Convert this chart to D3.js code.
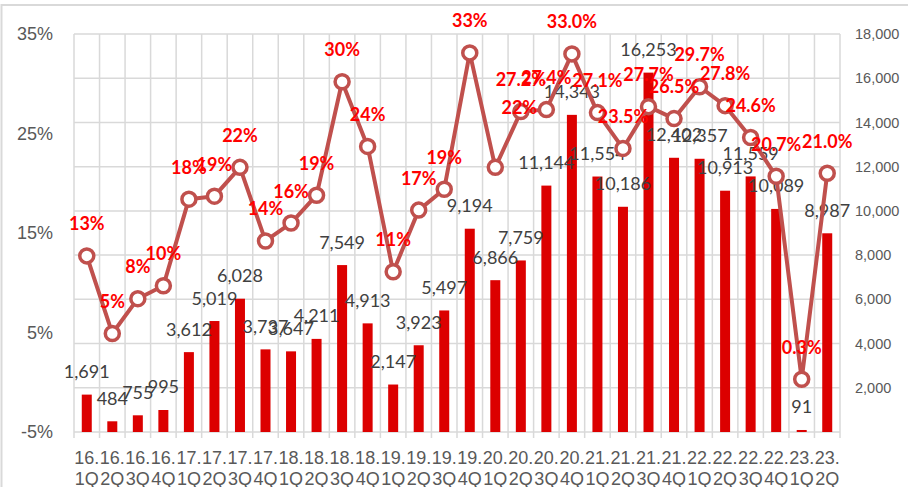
<!DOCTYPE html>
<html>
<head>
<meta charset="utf-8">
<script src="https://cdn.jsdelivr.net/npm/d3@7"></script>
<style>
    body { margin: 0; background: #fff; }
    svg { display: block; font-family: Lato, "Open Sans", sans-serif; }
</style>
</head>
<body>
<svg id="chart"></svg>
<script>
// quarters, sales (right axis) and margin % (left axis)
const categories = [
    "16.1Q", "16.2Q", "16.3Q", "16.4Q", "17.1Q", "17.2Q", "17.3Q", "17.4Q",
    "18.1Q", "18.2Q", "18.3Q", "18.4Q", "19.1Q", "19.2Q", "19.3Q", "19.4Q",
    "20.1Q", "20.2Q", "20.3Q", "20.4Q", "21.1Q", "21.2Q", "21.3Q", "21.4Q",
    "22.1Q", "22.2Q", "22.3Q", "22.4Q", "23.1Q", "23.2Q"
];
const sales = [
    1691, 484, 755, 995, 3612, 5019, 6028, 3737,
    3647, 4211, 7549, 4913, 2147, 3923, 5497, 9194,
    6866, 7759, 11144, 14343, 11554, 10186, 16253, 12402,
    12357, 10913, 11559, 10089, 91, 8987
];
const margin = [
    12.7, 4.9, 8.4, 9.7, 18.4, 18.7, 21.6, 14.2,
    16.0, 18.8, 30.2, 23.7, 11.1, 17.3, 19.4, 33.1,
    21.6, 27.2, 27.4, 33.0, 27.1, 23.5, 27.7, 26.5,
    29.7, 27.8, 24.6, 20.7, 0.3, 21.0
];
const leftTicks = [-5, 5, 15, 25, 35];
const rightTicks = [2000, 4000, 6000, 8000, 10000, 12000, 14000, 16000, 18000];
const gridTicks = [0, ...rightTicks];
// labels before this index are rounded to whole percent
const wholeUntil = 17;
// one label was dragged off its point in the original
const labelNudge = { 16: [24, -28] };

const width = 908, height = 487;
const plot = { left: 74, right: 840, top: 34, bottom: 432 };

const svg = d3.select("#chart").attr("width", width).attr("height", height);

// chart border
svg.append("rect")
    .attr("x", 1.5).attr("y", 5)
    .attr("width", width + 10).attr("height", height + 10)
    .attr("fill", "none").attr("stroke", "#d9d9d9").attr("stroke-width", 2);

const x = d3.scaleBand().domain(categories).range([plot.left, plot.right]).padding(0);
const yL = d3.scaleLinear().domain([-5, 35]).range([plot.bottom, plot.top]);
const yR = d3.scaleLinear().domain([0, 18000]).range([plot.bottom, plot.top]);

const grid = svg.append("g").attr("stroke", "#d9d9d9").attr("stroke-width", 1.5);
grid.selectAll("line.h")
    .data(gridTicks)
    .join("line")
    .attr("class", "h")
    .attr("x1", plot.left).attr("x2", plot.right)
    .attr("y1", (d) => yR(d)).attr("y2", (d) => yR(d));
const edges = categories.map((c) => x(c)).concat([plot.right]);
grid.selectAll("line.v")
    .data(edges)
    .join("line")
    .attr("class", "v")
    .attr("x1", (d) => d).attr("x2", (d) => d)
    .attr("y1", plot.top).attr("y2", plot.bottom + 6);

// axes (labels only)
const leftAxis = svg.append("g")
    .attr("transform", `translate(${plot.left},0)`)
    .call(d3.axisLeft(yL).tickValues(leftTicks).tickSize(0).tickPadding(21).tickFormat((d) => d + "%"));
const rightAxis = svg.append("g")
    .attr("transform", `translate(${plot.right},0)`)
    .call(d3.axisRight(yR).tickValues(rightTicks).tickSize(0).tickPadding(15).tickFormat(d3.format(",")));
const bottomAxis = svg.append("g")
    .attr("transform", `translate(0,${plot.bottom})`)
    .call(d3.axisBottom(x).tickSize(0).tickFormat(""));

[leftAxis, rightAxis, bottomAxis].forEach((g) => g.select(".domain").remove());
leftAxis.selectAll("text").attr("font-size", 18).attr("fill", "#595959").attr("font-family", null);
rightAxis.selectAll("text").attr("font-size", 14.5).attr("fill", "#595959").attr("font-family", null);

bottomAxis.selectAll(".tick text")
    .attr("y", 0).attr("dy", null)
    .attr("font-size", 18).attr("fill", "#595959").attr("font-family", null)
    .each(function (d) {
        const t = d3.select(this);
        t.append("tspan").attr("x", 0).attr("y", 32).text(d.slice(0, 3));
        t.append("tspan").attr("x", 0).attr("y", 53).text(d.slice(3));
    });

// bars
const barW = 10;
svg.append("g")
    .selectAll("rect")
    .data(sales)
    .join("rect")
    .attr("x", (d, i) => x(categories[i]) + x.bandwidth() / 2 - barW / 2)
    .attr("y", (d) => yR(d))
    .attr("width", barW)
    .attr("height", (d) => yR(0) - yR(d))
    .attr("fill", "#dc0000");

svg.append("g")
    .selectAll("text")
    .data(sales)
    .join("text")
    .attr("x", (d, i) => x(categories[i]) + x.bandwidth() / 2)
    .attr("y", (d) => yR(d) - 16.5)
    .attr("text-anchor", "middle")
    .attr("font-size", 18)
    .attr("fill", "#404040")
    .text(d3.format(","));

// margin line
const cx = (i) => x(categories[i]) + x.bandwidth() / 2;
const line = d3.line().x((d, i) => cx(i)).y((d) => yL(d));
svg.append("path")
    .datum(margin)
    .attr("d", line)
    .attr("fill", "none")
    .attr("stroke", "#c0504d")
    .attr("stroke-width", 4)
    .attr("stroke-linejoin", "round");

svg.append("g")
    .selectAll("circle")
    .data(margin)
    .join("circle")
    .attr("cx", (d, i) => cx(i))
    .attr("cy", (d) => yL(d))
    .attr("r", 7)
    .attr("fill", "#fff")
    .attr("stroke", "#c0504d")
    .attr("stroke-width", 3.5);

const f0 = d3.format(".0f"), f1 = d3.format(".1f");
svg.append("g")
    .selectAll("text")
    .data(margin)
    .join("text")
    .attr("x", (d, i) => cx(i) + (labelNudge[i] ? labelNudge[i][0] : 0))
    .attr("y", (d, i) => yL(d) - 25.5 + (labelNudge[i] ? labelNudge[i][1] : 0))
    .attr("text-anchor", "middle")
    .attr("font-size", 18)
    .attr("font-weight", "bold")
    .attr("fill", "#ff0000")
    .text((d, i) => (i < wholeUntil ? f0(d) : f1(d)) + "%");
</script>
</body>
</html>
